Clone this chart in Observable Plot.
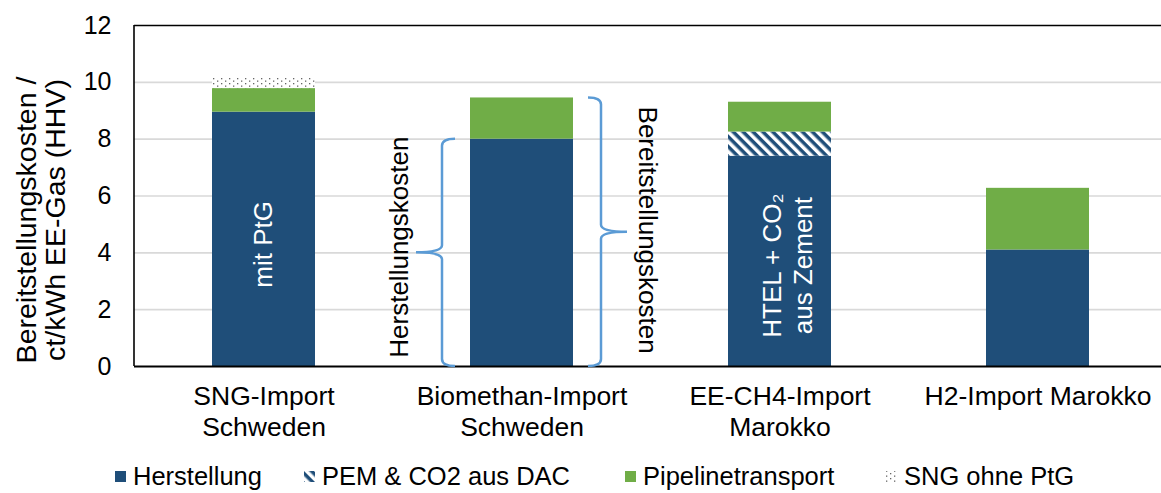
<!DOCTYPE html>
<html><head><meta charset="utf-8">
<script src="https://cdn.jsdelivr.net/npm/d3@7"></script>
<script src="https://cdn.jsdelivr.net/npm/@observablehq/plot@0.6"></script>
<style>
body{margin:0;background:#fff;font-family:"Liberation Sans",Arial,sans-serif;}
#chart{position:relative;width:1161px;height:493px;overflow:hidden;}
#chart svg.plot{display:block;}
.legend{position:absolute;left:114px;top:462px;display:flex;align-items:center;font-size:25.5px;color:#000;white-space:nowrap;}
.item{display:flex;align-items:center;}
.item svg{margin-right:6px;}
</style></head><body><div id="chart"></div>
<script>
// ---- data ----
const categories = ["SNG-Import Schweden", "Biomethan-Import Schweden", "EE-CH4-Import Marokko", "H2-Import Marokko"];
const tickLabels = ["SNG-Import\nSchweden", "Biomethan-Import\nSchweden", "EE-CH4-Import\nMarokko", "H2-Import Marokko"];
const seriesNames = ["Herstellung", "PEM & CO2 aus DAC", "Pipelinetransport", "SNG ohne PtG"];
const herstellung = [8.95, 8.0, 7.4, 4.1];
const pemDac = [0, 0, 0.85, 0];
const pipelinetransport = [0.83, 1.45, 1.05, 2.17];
const sngOhnePtG = [0.37, 0, 0, 0];
const yTicks = [0, 2, 4, 6, 8, 10, 12];
const seriesFills = ["#1F4E79", "url(#hatch)", "#70AD47", "url(#dots)"];
const legendItemWidths = ["189px", "321px", "261px", "auto"];
const yTitle = "Bereitstellungskosten /\nct/kWh EE-Gas (HHV)";
const noteSng = {cat: categories[0], y: 4.3, text: "mit PtG"};
const noteHtel = {cat: categories[2], y: 3.55, text: "HTEL + CO\u2082\naus Zement"};
const braces = [
  {cat: categories[1], y1: 0, y2: herstellung[1], side: "left"},
  {cat: categories[1], y1: 0, y2: herstellung[1] + pipelinetransport[1], side: "right"}
];
const braceLabelLeft = {cat: categories[1], y: 4.2, text: "Herstellungskosten"};
const braceLabelRight = {cat: categories[1], y: 4.8, text: "Bereitstellungskosten"};

// ---- table ----
const seriesValues = [herstellung, pemDac, pipelinetransport, sngOhnePtG];
const rows = [];
categories.forEach((c, i) => seriesValues.forEach((vals, s) => {
  if (vals[i] > 0) rows.push({cat: c, series: seriesNames[s], value: vals[i]});
}));

function overlay(index, scales, values, dims) {
  const sx = scales.x, sy = scales.y;
  const bw = typeof sx.bandwidth === "function" ? sx.bandwidth() : (sx.bandwidth ?? scales.scales.x.bandwidth);
  const g = d3.create("svg:g");
  g.append("line").attr("x1", dims.marginLeft).attr("x2", dims.marginLeft)
    .attr("y1", sy(12)).attr("y2", sy(0)).attr("stroke", "#000").attr("stroke-width", 1.6);
  for (const b of braces) {
    const x0 = sx(b.cat), x1 = x0 + bw;
    const yTop = sy(b.y2), yBot = sy(b.y1), yMid = (yTop + yBot) / 2;
    const dir = b.side === "left" ? -1 : 1;
    const edge = b.side === "left" ? x0 : x1;
    const bx = edge + dir * 28, hx = edge + dir * 15, tx = edge + dir * 54;
    const r = 7;
    const d = `M${hx},${yTop} Q${bx},${yTop} ${bx},${yTop + r} L${bx},${yMid - r} Q${bx},${yMid} ${tx},${yMid} Q${bx},${yMid} ${bx},${yMid + r} L${bx},${yBot - r} Q${bx},${yBot} ${hx},${yBot}`;
    g.append("path").attr("d", d).attr("fill", "none").attr("stroke", "#5B9BD5").attr("stroke-width", 2.5);
  }
  return g.node();
}

const plot = Plot.plot({
  width: 1161,
  height: 455,
  marginLeft: 134,
  marginRight: 0,
  marginTop: 25,
  marginBottom: 89,
  style: {fontFamily: "'Liberation Sans', Arial, sans-serif", fontSize: "25px", color: "#000", background: "#fff"},
  x: {domain: categories, range: [134, 1168], paddingInner: 0.6, paddingOuter: 0.3, axis: null},
  y: {domain: [0, 12], axis: null},
  color: {domain: seriesNames, range: seriesFills},
  marks: [
    Plot.ruleY(yTicks.filter(t => t > 0 && t < 12), {stroke: "#D9D9D9", strokeWidth: 1.6}),
    Plot.barY(rows, Plot.stackY({x: "cat", y: "value", fill: "series", order: seriesNames})),
    Plot.ruleY([12], {stroke: "#000", strokeWidth: 1.3}),
    Plot.ruleY([0], {stroke: "#000", strokeWidth: 2}),
    Plot.axisY({ticks: yTicks, tickSize: 0, tickPadding: 23, fontSize: 25, label: null, tickFormat: d => String(d)}),
    Plot.text([yTitle], {frameAnchor: "left", dx: -93, dy: 24, rotate: -90, fontSize: 28.5, lineHeight: 1.02, text: d => d, textAnchor: "middle"}),
    Plot.text(categories, {x: d => d, frameAnchor: "bottom", text: (d, i) => tickLabels[i], lineAnchor: "top", dy: 16, lineHeight: 1.17, fontSize: 26.5}),
    Plot.text([noteSng], {x: "cat", y: "y", text: "text", rotate: -90, fill: "#fff", fontSize: 26}),
    Plot.text([noteHtel], {x: "cat", y: "y", text: "text", dx: 7, rotate: -90, fill: "#fff", fontSize: 26, lineHeight: 1.18}),
    Plot.text([braceLabelLeft], {x: "cat", y: "y", text: "text", dx: -122, rotate: -90, fontSize: 26}),
    Plot.text([braceLabelRight], {x: "cat", y: "y", text: "text", dx: 125, rotate: 90, fontSize: 26}),
    overlay
  ]
});

// patterns
const defs = d3.select(plot).insert("defs", ":first-child");
const h = defs.append("pattern").attr("id", "hatch").attr("patternUnits", "userSpaceOnUse")
  .attr("width", 7).attr("height", 7).attr("patternTransform", "rotate(-45)");
h.append("rect").attr("width", 7).attr("height", 7).attr("fill", "#1F4E79");
h.append("rect").attr("width", 3.5).attr("height", 7).attr("fill", "#fff");
const p = defs.append("pattern").attr("id", "dots").attr("patternUnits", "userSpaceOnUse")
  .attr("width", 8).attr("height", 5);
p.append("rect").attr("width", 8).attr("height", 5).attr("fill", "#fff");
p.append("rect").attr("x", 1).attr("y", 0.5).attr("width", 1.3).attr("height", 1.3).attr("fill", "#666");
p.append("rect").attr("x", 5).attr("y", 3).attr("width", 1.3).attr("height", 1.3).attr("fill", "#666");

const chart = document.getElementById("chart");
chart.appendChild(plot);

// legend
const legend = document.createElement("div");
legend.className = "legend";
seriesNames.forEach((name, i) => {
  const item = document.createElement("div");
  item.className = "item";
  item.style.width = legendItemWidths[i];
  const sw = d3.create("svg").attr("width", 13).attr("height", 13);
  sw.append("rect").attr("x", 1).attr("y", 1).attr("width", 11).attr("height", 11).attr("fill", seriesFills[i]);
  item.appendChild(sw.node());
  const t = document.createElement("span");
  t.textContent = name;
  item.appendChild(t);
  legend.appendChild(item);
});
chart.appendChild(legend);
</script></body></html>
